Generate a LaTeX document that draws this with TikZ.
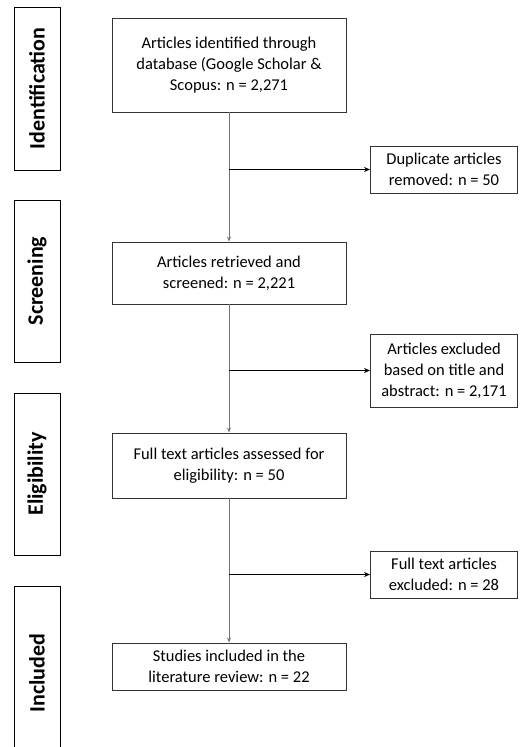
\documentclass[tikz,border=0pt]{standalone}
\usepackage{fontspec}
\setmainfont{Carlito}
\usetikzlibrary{arrows.meta,positioning}

\tikzset{
  step box/.style={draw=black!80, line width=0.9pt, align=center, inner sep=0pt,
    minimum width=234pt, font=\fontsize{16.5}{21}\selectfont},
  side box/.style={draw=black!80, line width=0.9pt, align=center, inner sep=0pt,
    minimum width=147pt, font=\fontsize{16.5}{21}\selectfont},
  stage/.style={draw=black, line width=1pt, minimum width=46pt, inner sep=0pt,
    font=\bfseries\fontsize{22}{24}\selectfont},
  flow/.style={draw=black!55, line width=0.8pt, -{Stealth[length=5pt,width=4pt]}},
  sidearrow/.style={draw=black, line width=1.2pt, -{Stealth[length=6pt,width=5pt]}}
}

\begin{document}
\begin{tikzpicture}[x=1pt,y=-1pt]
  \useasboundingbox (0,0) rectangle (520,747);

  % stages
  \node (ident) [stage, minimum height=163pt] at (37,88.5) {\rotatebox{90}{Identification}};
  \node (screen) [stage, minimum height=162pt] at (37,281) {\rotatebox{90}{Screening}};
  \node (elig) [stage, minimum height=162pt] at (37,474) {\rotatebox{90}{Eligibility}};
  \node (incl) [stage, minimum height=174pt] at (37,673) {\rotatebox{90}{Included}};

  % main flow
  \node (found) [step box, minimum height=94pt] at (229,65)
    {Articles identified through\\database (Google Scholar \&\\Scopus: n = 2,271};
  \node (screened) [step box, minimum height=62pt] at (229,273)
    {Articles retrieved and\\screened: n = 2,221};
  \node (assessed) [step box, minimum height=65pt] at (229,465.5)
    {Full text articles assessed for\\eligibility: n = 50};
  \node (included) [step box, minimum height=47pt] at (229,666.5)
    {Studies included in the\\literature review: n = 22};

  % removed
  \node (dup) [side box, minimum height=47pt] at (444,169.5)
    {Duplicate articles\\removed: n = 50};
  \node (excl) [side box, minimum height=73pt] at (444,370.5)
    {Articles excluded\\based on title and\\abstract: n = 2,171};
  \node (fulltext) [side box, minimum height=47pt] at (444,574.5)
    {Full text articles\\excluded: n = 28};

  \draw[flow] (found) -- (screened);
  \draw[flow] (screened) -- (assessed);
  \draw[flow] (assessed) -- (included);

  \draw[sidearrow] (dup.west -| found.south) -- (dup);
  \draw[sidearrow] (excl.west -| found.south) -- (excl);
  \draw[sidearrow] (fulltext.west -| found.south) -- (fulltext);
\end{tikzpicture}
\end{document}
